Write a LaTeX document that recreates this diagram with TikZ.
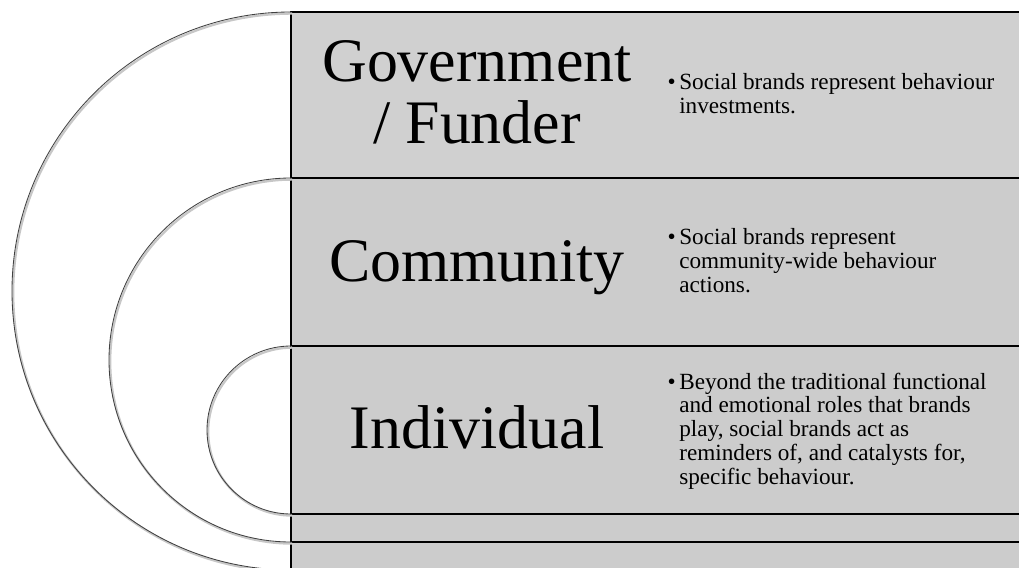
\documentclass[tikz,border=0pt]{standalone}
\usepackage{fontspec}
\setmainfont{Liberation Serif}
\usepackage{tikz}
\usetikzlibrary{positioning}
\definecolor{topgray}{RGB}{208,208,208}
\definecolor{bandgray}{RGB}{204,204,204}
\newcommand{\bultext}[1]{\parbox[t]{9cm}{\raggedright\fontsize{16.5}{17}\selectfont #1}}
\newcommand{\bigtext}[1]{\begin{tabular}[t]{@{}c@{}}#1\end{tabular}}
\newcommand{\bul}{\leavevmode\llap{\textbullet\hspace{2.5pt}}}

\begin{document}
\begin{tikzpicture}[x=0.025cm, y=0.025cm,
    band/.style={draw=black, line width=1pt},
    ring/.style={draw=black!75, line width=0.6pt},
    ringshadow/.style={draw=black!22, line width=1.6pt, shift={(1.2,-1.6)}},
    levellabel/.style={anchor=base, inner sep=0pt, font=\fontsize{44}{43.4}\selectfont},
    bullettext/.style={anchor=base west, inner sep=0pt}]
    \useasboundingbox (0,0) rectangle (1019,567);

    % Bands
    \draw[band, fill=bandgray] (291,-20) rectangle (1040,25);
    \draw[band, fill=bandgray] (291,25) rectangle (1040,53);
    \draw[band, fill=bandgray] (291,53) rectangle (1040,221);
    \draw[band, fill=bandgray] (291,221) rectangle (1040,389);
    \draw[band, fill=topgray] (291,389) rectangle (1040,555);

    % Rings
    \draw[ringshadow] (291,555) arc[start angle=90, end angle=270, radius=279];
    \draw[ringshadow] (291,389) arc[start angle=90, end angle=270, radius=182];
    \draw[ringshadow] (291,221) arc[start angle=90, end angle=270, radius=84];
    \draw[ring] (291,555) arc[start angle=90, end angle=270, radius=279];
    \draw[ring] (291,389) arc[start angle=90, end angle=270, radius=182];
    \draw[ring] (291,221) arc[start angle=90, end angle=270, radius=84];

    % Levels
    \node (gov) at (477,485) [levellabel] {\bigtext{Government\\/ Funder}};
    \node (com) at (477,285) [levellabel] {Community};
    \node (ind) at (477,119) [levellabel] {Individual};

    % Descriptions
    \node (govtxt) at (679,477) [bullettext] {\bultext{\bul Social brands represent behaviour\\investments.}};
    \node (comtxt) at (679,322) [bullettext] {\bultext{\bul Social brands represent\\community-wide behaviour\\actions.}};
    \node (indtxt) at (679,178) [bullettext] {\bultext{\bul Beyond the traditional functional\\and emotional roles that brands\\play, social brands act as\\reminders of, and catalysts for,\\specific behaviour.}};
\end{tikzpicture}
\end{document}
